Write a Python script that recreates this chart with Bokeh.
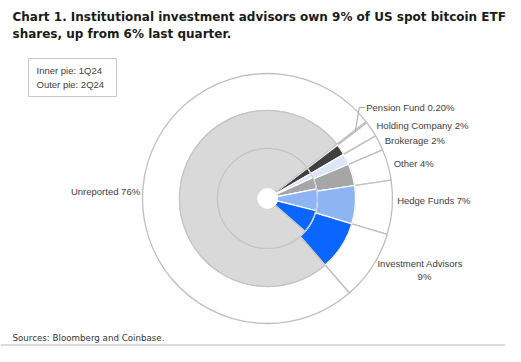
import numpy as np
from bokeh.plotting import figure
from bokeh.models import Range1d
from bokeh.core.properties import value
from bokeh.embed import file_html
from bokeh.resources import INLINE

# ---------------- data ----------------
categories = ["Pension Fund", "Holding Company", "Brokerage", "Other",
              "Hedge Funds", "Investment Advisors", "Unreported"]
share_1q24 = [0.2, 2.0, 1.5, 3.8, 7.0, 7.5, 78.0]      # inner pie
share_2q24 = [0.2, 2.0, 2.0, 4.0, 7.0, 9.0, 75.8]      # outer pie
label_2q24 = ["0.20%", "2%", "2%", "4%", "7%", "9%", "76%"]
slice_colors = ["#FFFFFF", "#404040", "#DCE6F8", "#A6A6A6",
                "#8FB4F4", "#0A66FF", "#D9D9D9"]
title_lines = ["Chart 1. Institutional investment advisors own 9% of US spot bitcoin ETF",
               "shares, up from 6% last quarter."]
legend_lines = ["Inner pie: 1Q24", "Outer pie: 2Q24"]
source_note = "Sources: Bloomberg and Coinbase."

# ---------------- layout (pixel-like data space) ----------------
W, H = 505, 346
def Y(img_y):            # convert screen y (from top) to data y
    return H - img_y

CX, CY = 267, Y(198)
R_HOLE, R_IN, R_MID, R_OUT = 10, 50, 88, 125
START_DEG = 38.0
LAB_R = 131

def angles(vals):
    v = np.asarray(vals, dtype=float)
    cum = np.concatenate([[0], np.cumsum(v)]) / v.sum() * 360.0
    upper = START_DEG - cum[:-1]
    lower = START_DEG - cum[1:]
    return np.radians(lower), np.radians(upper), np.radians((lower + upper) / 2)

p = figure(width=W, height=H, x_range=Range1d(0, W), y_range=Range1d(0, H),
           output_backend="svg", toolbar_location=None, min_border=0,
           x_axis_location=None, y_axis_location=None)
p.grid.visible = False
p.outline_line_color = None
p.background_fill_color = "white"
p.border_fill_color = "white"

unrep = len(categories) - 1
line_cols = ["#FFFFFF"] * unrep + ["#C4C4C4"]

# outer white ring (2Q24)
lo2, up2, mid2 = angles(share_2q24)
p.annular_wedge(x=CX, y=CY, inner_radius=R_MID, outer_radius=R_OUT,
                start_angle=lo2, end_angle=up2, fill_color="white",
                line_color="#BFBFBF", line_width=1.3)
# coloured 2Q24 ring
p.annular_wedge(x=CX, y=CY, inner_radius=R_IN, outer_radius=R_MID,
                start_angle=lo2, end_angle=up2, fill_color=slice_colors,
                line_color=line_cols, line_width=1.2)
# inner 1Q24 pie
lo1, up1, mid1 = angles(share_1q24)
p.annular_wedge(x=CX, y=CY, inner_radius=R_HOLE, outer_radius=R_IN,
                start_angle=lo1, end_angle=up1, fill_color=slice_colors,
                line_color=line_cols, line_width=1.2)
p.arc(x=CX, y=CY, radius=R_IN, start_angle=up1[-1], end_angle=lo1[-1] + 2 * np.pi,
      line_color="#BDBDBD", line_width=1)
p.circle(x=CX, y=CY, radius=R_HOLE, fill_color="white", line_color="white")

# ---------------- slice labels ----------------
nudge = {"Pension Fund": (-5, 11), "Hedge Funds": (-1, 7), "Unreported": (3, -6)}
lab_font = value("Liberation Sans")
for cat, pct, m in zip(categories, label_2q24, mid2):
    ax = CX + LAB_R * np.cos(m)
    ay = CY + LAB_R * np.sin(m)
    dx, dy = nudge.get(cat, (0, 0))
    ax, ay = ax + dx, ay + dy
    txt = f"{cat} {pct}"
    if len(txt) > 20:
        p.text(x=[ax], y=[ay + 6], text=[cat], text_font=lab_font, text_font_size="9.5px",
               text_color="#404040", text_align="left", text_baseline="middle")
        p.text(x=[ax + 47], y=[ay - 7], text=[pct], text_font=lab_font, text_font_size="9.5px",
               text_color="#404040", text_align="center", text_baseline="middle")
    else:
        align = "left" if np.cos(m) > 0 else "right"
        p.text(x=[ax], y=[ay], text=[txt], text_font=lab_font, text_font_size="9.5px",
               text_color="#404040", text_align=align, text_baseline="middle")
    if cat == "Pension Fund":
        sx = CX + 111 * np.cos(m)
        sy = CY + 111 * np.sin(m)
        p.line(x=[sx, ax - 7, ax - 1], y=[sy, ay, ay], line_color="#A6A6A6", line_width=1)

# ---------------- title ----------------
for i, t in enumerate(title_lines):
    p.text(x=[12], y=[Y(16 + 17 * i)], text=[t], text_font=value("DejaVu Sans"),
           text_font_style="bold", text_font_size="12px", text_color="#1A1A1A",
           text_align="left", text_baseline="middle")

# ---------------- legend box ----------------
p.quad(left=28, right=116, top=Y(58), bottom=Y(96), fill_color="white",
       line_color="#C8C8C8", line_width=1)
for i, t in enumerate(legend_lines):
    p.text(x=[36], y=[Y(70 + 14 * i)], text=[t], text_font=lab_font, text_font_size="9.5px",
           text_color="#404040", text_align="left", text_baseline="middle")

# ---------------- source ----------------
p.text(x=[12], y=[Y(337)], text=[source_note], text_font=value("DejaVu Sans"),
       text_font_size="8.7px", text_color="#333333", text_align="left", text_baseline="middle")
p.segment(x0=[0], x1=[W], y0=[Y(344.5)], y1=[Y(344.5)], line_color="#BBBBBB", line_width=1)

open("out.html", "w").write(file_html(p, INLINE))
